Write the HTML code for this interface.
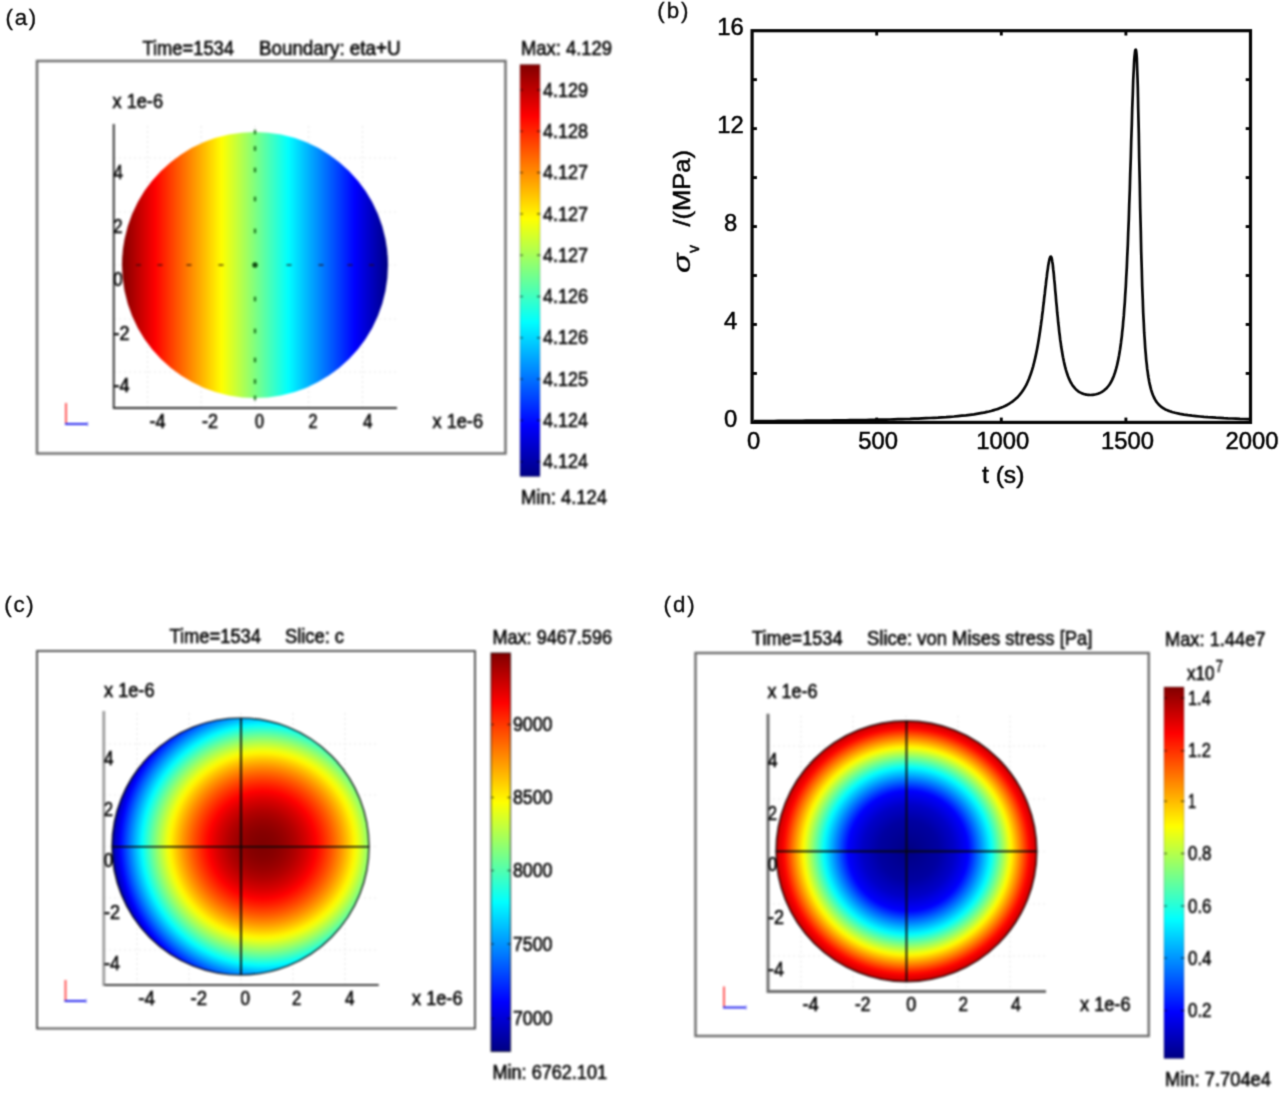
<!DOCTYPE html>
<html lang="en">
<head>
<meta charset="utf-8">
<title>Figure: COMSOL panels (a)-(d)</title>
<style>
html,body{margin:0;padding:0;background:#fff;}
body{width:1280px;height:1095px;overflow:hidden;font-family:"Liberation Sans",sans-serif;}
svg{display:block;font-family:"Liberation Sans",sans-serif;}
</style>
</head>
<body>
<svg width="1280" height="1095" viewBox="0 0 1280 1095">
<defs>
<linearGradient id="cb" x1="0" y1="0" x2="0" y2="1"><stop offset="0.0000" stop-color="#800000"/><stop offset="0.0312" stop-color="#a00000"/><stop offset="0.0625" stop-color="#c00000"/><stop offset="0.0938" stop-color="#df0000"/><stop offset="0.1250" stop-color="#ff0000"/><stop offset="0.1562" stop-color="#ff2000"/><stop offset="0.1875" stop-color="#ff4000"/><stop offset="0.2188" stop-color="#ff6000"/><stop offset="0.2500" stop-color="#ff8000"/><stop offset="0.2812" stop-color="#ff9f00"/><stop offset="0.3125" stop-color="#ffbf00"/><stop offset="0.3438" stop-color="#ffdf00"/><stop offset="0.3750" stop-color="#ffff00"/><stop offset="0.4062" stop-color="#dfff20"/><stop offset="0.4375" stop-color="#c0ff40"/><stop offset="0.4688" stop-color="#a0ff60"/><stop offset="0.5000" stop-color="#80ff80"/><stop offset="0.5312" stop-color="#60ffa0"/><stop offset="0.5625" stop-color="#40ffc0"/><stop offset="0.5938" stop-color="#20ffdf"/><stop offset="0.6250" stop-color="#00ffff"/><stop offset="0.6562" stop-color="#00dfff"/><stop offset="0.6875" stop-color="#00bfff"/><stop offset="0.7188" stop-color="#009fff"/><stop offset="0.7500" stop-color="#0080ff"/><stop offset="0.7812" stop-color="#0060ff"/><stop offset="0.8125" stop-color="#0040ff"/><stop offset="0.8438" stop-color="#0020ff"/><stop offset="0.8750" stop-color="#0000ff"/><stop offset="0.9062" stop-color="#0000e0"/><stop offset="0.9375" stop-color="#0000c1"/><stop offset="0.9688" stop-color="#0000a2"/><stop offset="1.0000" stop-color="#000083"/></linearGradient>
<linearGradient id="ga" x1="0" y1="0" x2="1" y2="0"><stop offset="0.0000" stop-color="#800000"/><stop offset="0.0312" stop-color="#a00000"/><stop offset="0.0625" stop-color="#c00000"/><stop offset="0.0938" stop-color="#df0000"/><stop offset="0.1250" stop-color="#ff0000"/><stop offset="0.1562" stop-color="#ff2000"/><stop offset="0.1875" stop-color="#ff4000"/><stop offset="0.2188" stop-color="#ff6000"/><stop offset="0.2500" stop-color="#ff8000"/><stop offset="0.2812" stop-color="#ff9f00"/><stop offset="0.3125" stop-color="#ffbf00"/><stop offset="0.3438" stop-color="#ffdf00"/><stop offset="0.3750" stop-color="#ffff00"/><stop offset="0.4062" stop-color="#dfff20"/><stop offset="0.4375" stop-color="#c0ff40"/><stop offset="0.4688" stop-color="#a0ff60"/><stop offset="0.5000" stop-color="#80ff80"/><stop offset="0.5312" stop-color="#60ffa0"/><stop offset="0.5625" stop-color="#40ffc0"/><stop offset="0.5938" stop-color="#20ffdf"/><stop offset="0.6250" stop-color="#00ffff"/><stop offset="0.6562" stop-color="#00dfff"/><stop offset="0.6875" stop-color="#00bfff"/><stop offset="0.7188" stop-color="#009fff"/><stop offset="0.7500" stop-color="#0080ff"/><stop offset="0.7812" stop-color="#0060ff"/><stop offset="0.8125" stop-color="#0040ff"/><stop offset="0.8438" stop-color="#0020ff"/><stop offset="0.8750" stop-color="#0000ff"/><stop offset="0.9062" stop-color="#0000e0"/><stop offset="0.9375" stop-color="#0000c1"/><stop offset="0.9688" stop-color="#0000a2"/><stop offset="1.0000" stop-color="#000083"/></linearGradient>
<radialGradient id="gc" gradientUnits="userSpaceOnUse" cx="262.4" cy="845" r="152"><stop offset="0.0000" stop-color="#800000"/><stop offset="0.0208" stop-color="#800000"/><stop offset="0.0417" stop-color="#820000"/><stop offset="0.0625" stop-color="#840000"/><stop offset="0.0833" stop-color="#870000"/><stop offset="0.1042" stop-color="#8b0000"/><stop offset="0.1250" stop-color="#900000"/><stop offset="0.1458" stop-color="#960000"/><stop offset="0.1667" stop-color="#9c0000"/><stop offset="0.1875" stop-color="#a40000"/><stop offset="0.2083" stop-color="#ac0000"/><stop offset="0.2292" stop-color="#b50000"/><stop offset="0.2500" stop-color="#c00000"/><stop offset="0.2708" stop-color="#cb0000"/><stop offset="0.2917" stop-color="#d60000"/><stop offset="0.3125" stop-color="#e30000"/><stop offset="0.3333" stop-color="#f10000"/><stop offset="0.3542" stop-color="#ff0000"/><stop offset="0.3750" stop-color="#ff1000"/><stop offset="0.3958" stop-color="#ff2000"/><stop offset="0.4167" stop-color="#ff3200"/><stop offset="0.4375" stop-color="#ff4400"/><stop offset="0.4583" stop-color="#ff5700"/><stop offset="0.4792" stop-color="#ff6b00"/><stop offset="0.5000" stop-color="#ff8000"/><stop offset="0.5208" stop-color="#ff9500"/><stop offset="0.5417" stop-color="#ffac00"/><stop offset="0.5625" stop-color="#ffc300"/><stop offset="0.5833" stop-color="#ffdc00"/><stop offset="0.6042" stop-color="#fff500"/><stop offset="0.6250" stop-color="#efff10"/><stop offset="0.6458" stop-color="#d4ff2b"/><stop offset="0.6667" stop-color="#b8ff47"/><stop offset="0.6875" stop-color="#9cff64"/><stop offset="0.7083" stop-color="#7eff82"/><stop offset="0.7292" stop-color="#60ffa0"/><stop offset="0.7500" stop-color="#40ffc0"/><stop offset="0.7708" stop-color="#20ffe0"/><stop offset="0.7917" stop-color="#00fdff"/><stop offset="0.8125" stop-color="#00dbff"/><stop offset="0.8333" stop-color="#00b8ff"/><stop offset="0.8542" stop-color="#0094ff"/><stop offset="0.8750" stop-color="#0070ff"/><stop offset="0.8958" stop-color="#004aff"/><stop offset="0.9167" stop-color="#0023ff"/><stop offset="0.9375" stop-color="#0000fb"/><stop offset="0.9583" stop-color="#0000d4"/><stop offset="0.9792" stop-color="#0000ac"/><stop offset="1.0000" stop-color="#000083"/></radialGradient>
<radialGradient id="gd" gradientUnits="userSpaceOnUse" cx="906.4" cy="851.3" r="136.0" fx="909.4" fy="850.5"><stop offset="0.0000" stop-color="#000083"/><stop offset="0.0147" stop-color="#000085"/><stop offset="0.0294" stop-color="#000087"/><stop offset="0.0441" stop-color="#000089"/><stop offset="0.0588" stop-color="#00008b"/><stop offset="0.0735" stop-color="#00008d"/><stop offset="0.0882" stop-color="#00008f"/><stop offset="0.1029" stop-color="#000091"/><stop offset="0.1176" stop-color="#000093"/><stop offset="0.1324" stop-color="#000095"/><stop offset="0.1471" stop-color="#000097"/><stop offset="0.1618" stop-color="#000099"/><stop offset="0.1765" stop-color="#00009b"/><stop offset="0.1912" stop-color="#00009d"/><stop offset="0.2059" stop-color="#00009f"/><stop offset="0.2206" stop-color="#0000a1"/><stop offset="0.2353" stop-color="#0000a6"/><stop offset="0.2500" stop-color="#0000ab"/><stop offset="0.2647" stop-color="#0000b0"/><stop offset="0.2794" stop-color="#0000b5"/><stop offset="0.2941" stop-color="#0000ba"/><stop offset="0.3088" stop-color="#0000bf"/><stop offset="0.3235" stop-color="#0000c3"/><stop offset="0.3382" stop-color="#0000c8"/><stop offset="0.3529" stop-color="#0000d0"/><stop offset="0.3676" stop-color="#0000d8"/><stop offset="0.3824" stop-color="#0000e0"/><stop offset="0.3971" stop-color="#0000e8"/><stop offset="0.4118" stop-color="#0000ef"/><stop offset="0.4265" stop-color="#0000f7"/><stop offset="0.4412" stop-color="#0000ff"/><stop offset="0.4559" stop-color="#0016ff"/><stop offset="0.4706" stop-color="#002bff"/><stop offset="0.4853" stop-color="#0041ff"/><stop offset="0.5000" stop-color="#0057ff"/><stop offset="0.5147" stop-color="#006dff"/><stop offset="0.5294" stop-color="#0082ff"/><stop offset="0.5441" stop-color="#0098ff"/><stop offset="0.5588" stop-color="#00aeff"/><stop offset="0.5735" stop-color="#00c3ff"/><stop offset="0.5882" stop-color="#00d9ff"/><stop offset="0.6029" stop-color="#00efff"/><stop offset="0.6176" stop-color="#06fff9"/><stop offset="0.6324" stop-color="#20ffdf"/><stop offset="0.6471" stop-color="#3affc6"/><stop offset="0.6618" stop-color="#53ffac"/><stop offset="0.6765" stop-color="#6dff93"/><stop offset="0.6912" stop-color="#86ff7a"/><stop offset="0.7059" stop-color="#a0ff60"/><stop offset="0.7206" stop-color="#b9ff46"/><stop offset="0.7353" stop-color="#d3ff2d"/><stop offset="0.7500" stop-color="#ecff13"/><stop offset="0.7647" stop-color="#fff800"/><stop offset="0.7794" stop-color="#ffde00"/><stop offset="0.7941" stop-color="#ffc400"/><stop offset="0.8088" stop-color="#ffaa00"/><stop offset="0.8235" stop-color="#ff9000"/><stop offset="0.8382" stop-color="#ff7600"/><stop offset="0.8529" stop-color="#ff5c00"/><stop offset="0.8676" stop-color="#ff4100"/><stop offset="0.8824" stop-color="#ff2700"/><stop offset="0.8971" stop-color="#ff0d00"/><stop offset="0.9118" stop-color="#f70000"/><stop offset="0.9265" stop-color="#e70000"/><stop offset="0.9412" stop-color="#d60000"/><stop offset="0.9559" stop-color="#c60000"/><stop offset="0.9706" stop-color="#ba0000"/><stop offset="0.9853" stop-color="#af0000"/><stop offset="1.0000" stop-color="#a40000"/></radialGradient>
<filter id="soft" x="-2%" y="-2%" width="104%" height="104%" color-interpolation-filters="sRGB"><feGaussianBlur stdDeviation="0.85"/></filter>
<filter id="soft2" x="-2%" y="-2%" width="104%" height="104%" color-interpolation-filters="sRGB"><feConvolveMatrix order="3" kernelMatrix="0.0311 0.1141 0.0311 0.1141 0.4191 0.1141 0.0311 0.1141 0.0311" divisor="1" edgeMode="none" preserveAlpha="false"/></filter>
</defs>
<rect width="1280" height="1095" fill="#ffffff"/>
<g filter="url(#soft)">
<text x="142.50" y="54.50" font-size="19.60" text-anchor="start" fill="#050505" textLength="91.50" lengthAdjust="spacingAndGlyphs" stroke="#050505" stroke-width="0.60">Time=1534</text>
<text x="259.00" y="54.50" font-size="19.60" text-anchor="start" fill="#050505" textLength="141.50" lengthAdjust="spacingAndGlyphs" stroke="#050505" stroke-width="0.60">Boundary: eta+U</text>
<text x="521.00" y="54.50" font-size="19.60" text-anchor="start" fill="#050505" textLength="91.00" lengthAdjust="spacingAndGlyphs" stroke="#050505" stroke-width="0.60">Max: 4.129</text>
<text x="521.00" y="503.50" font-size="19.60" text-anchor="start" fill="#050505" textLength="86.00" lengthAdjust="spacingAndGlyphs" stroke="#050505" stroke-width="0.60">Min: 4.124</text>
<rect x="37.00" y="61.00" width="468.50" height="392.50" fill="#fff" stroke="#6c6c6c" stroke-width="2.40"/>
<line x1="147.50" y1="126.00" x2="147.50" y2="408.00" stroke="#e9e9e9" stroke-width="1.20" stroke-dasharray="2 3"/>
<line x1="201.20" y1="126.00" x2="201.20" y2="408.00" stroke="#e9e9e9" stroke-width="1.20" stroke-dasharray="2 3"/>
<line x1="255.00" y1="126.00" x2="255.00" y2="408.00" stroke="#e9e9e9" stroke-width="1.20" stroke-dasharray="2 3"/>
<line x1="308.70" y1="126.00" x2="308.70" y2="408.00" stroke="#e9e9e9" stroke-width="1.20" stroke-dasharray="2 3"/>
<line x1="362.50" y1="126.00" x2="362.50" y2="408.00" stroke="#e9e9e9" stroke-width="1.20" stroke-dasharray="2 3"/>
<line x1="113.75" y1="158.00" x2="397.00" y2="158.00" stroke="#e9e9e9" stroke-width="1.20" stroke-dasharray="2 3"/>
<line x1="113.75" y1="212.00" x2="397.00" y2="212.00" stroke="#e9e9e9" stroke-width="1.20" stroke-dasharray="2 3"/>
<line x1="113.75" y1="265.00" x2="397.00" y2="265.00" stroke="#e9e9e9" stroke-width="1.20" stroke-dasharray="2 3"/>
<line x1="113.75" y1="319.00" x2="397.00" y2="319.00" stroke="#e9e9e9" stroke-width="1.20" stroke-dasharray="2 3"/>
<line x1="113.75" y1="372.00" x2="397.00" y2="372.00" stroke="#e9e9e9" stroke-width="1.20" stroke-dasharray="2 3"/>
<circle cx="255.00" cy="265.00" r="133.00" fill="url(#ga)"/>
<rect x="253.80" y="228.70" width="2.4" height="4.6" fill="rgba(15,95,15,0.8)"/>
<rect x="218.50" y="264.00" width="5" height="2" fill="rgba(40,10,10,0.55)"/>
<rect x="253.80" y="296.70" width="2.4" height="4.6" fill="rgba(15,95,15,0.8)"/>
<rect x="286.50" y="264.00" width="5" height="2" fill="rgba(40,10,10,0.55)"/>
<rect x="253.80" y="196.70" width="2.4" height="4.6" fill="rgba(15,95,15,0.8)"/>
<rect x="186.50" y="264.00" width="5" height="2" fill="rgba(40,10,10,0.55)"/>
<rect x="253.80" y="328.70" width="2.4" height="4.6" fill="rgba(15,95,15,0.8)"/>
<rect x="318.50" y="264.00" width="5" height="2" fill="rgba(40,10,10,0.55)"/>
<rect x="253.80" y="167.70" width="2.4" height="4.6" fill="rgba(15,95,15,0.8)"/>
<rect x="157.50" y="264.00" width="5" height="2" fill="rgba(40,10,10,0.55)"/>
<rect x="253.80" y="357.70" width="2.4" height="4.6" fill="rgba(15,95,15,0.8)"/>
<rect x="347.50" y="264.00" width="5" height="2" fill="rgba(40,10,10,0.55)"/>
<rect x="253.80" y="146.20" width="2.4" height="4.6" fill="rgba(15,95,15,0.8)"/>
<rect x="136.00" y="264.00" width="5" height="2" fill="rgba(40,10,10,0.55)"/>
<rect x="253.80" y="379.20" width="2.4" height="4.6" fill="rgba(15,95,15,0.8)"/>
<rect x="369.00" y="264.00" width="5" height="2" fill="rgba(40,10,10,0.55)"/>
<rect x="253.80" y="129.70" width="2.4" height="4.6" fill="rgba(15,95,15,0.8)"/>
<rect x="253.80" y="395.70" width="2.4" height="4.6" fill="rgba(15,95,15,0.8)"/>
<circle cx="255.00" cy="265.00" r="2.7" fill="rgba(5,60,5,0.92)"/>
<line x1="113.75" y1="124.00" x2="113.75" y2="408.95" stroke="#2e2e2e" stroke-width="1.90"/>
<line x1="113.50" y1="408.00" x2="397.00" y2="408.00" stroke="#2e2e2e" stroke-width="1.90"/>
<text x="112.50" y="108.00" font-size="19.60" text-anchor="start" fill="#050505" textLength="50.50" lengthAdjust="spacingAndGlyphs" stroke="#050505" stroke-width="0.60">x 1e-6</text>
<text x="432.50" y="427.50" font-size="19.60" text-anchor="start" fill="#050505" textLength="50.50" lengthAdjust="spacingAndGlyphs" stroke="#050505" stroke-width="0.60">x 1e-6</text>
<text x="149.50" y="427.50" font-size="19.60" text-anchor="start" fill="#050505" textLength="16.00" lengthAdjust="spacingAndGlyphs" stroke="#050505" stroke-width="0.60">-4</text>
<text x="202.00" y="427.50" font-size="19.60" text-anchor="start" fill="#050505" textLength="16.00" lengthAdjust="spacingAndGlyphs" stroke="#050505" stroke-width="0.60">-2</text>
<text x="255.00" y="427.50" font-size="19.60" text-anchor="start" fill="#050505" textLength="9.00" lengthAdjust="spacingAndGlyphs" stroke="#050505" stroke-width="0.60">0</text>
<text x="308.50" y="427.50" font-size="19.60" text-anchor="start" fill="#050505" textLength="9.00" lengthAdjust="spacingAndGlyphs" stroke="#050505" stroke-width="0.60">2</text>
<text x="363.00" y="427.50" font-size="19.60" text-anchor="start" fill="#050505" textLength="9.50" lengthAdjust="spacingAndGlyphs" stroke="#050505" stroke-width="0.60">4</text>
<text x="113.50" y="179.00" font-size="19.60" text-anchor="start" fill="#050505" textLength="9.50" lengthAdjust="spacingAndGlyphs" stroke="#050505" stroke-width="0.60">4</text>
<text x="113.50" y="232.50" font-size="19.60" text-anchor="start" fill="#050505" textLength="9.00" lengthAdjust="spacingAndGlyphs" stroke="#050505" stroke-width="0.60">2</text>
<text x="113.50" y="285.50" font-size="19.60" text-anchor="start" fill="#050505" textLength="9.00" lengthAdjust="spacingAndGlyphs" stroke="#050505" stroke-width="0.60">0</text>
<text x="113.50" y="339.50" font-size="19.60" text-anchor="start" fill="#050505" textLength="16.00" lengthAdjust="spacingAndGlyphs" stroke="#050505" stroke-width="0.60">-2</text>
<text x="113.50" y="391.50" font-size="19.60" text-anchor="start" fill="#050505" textLength="16.00" lengthAdjust="spacingAndGlyphs" stroke="#050505" stroke-width="0.60">-4</text>
<line x1="66.00" y1="403.00" x2="66.00" y2="424.50" stroke="#ff4a4a" stroke-width="1.80"/>
<line x1="65.00" y1="424.00" x2="87.50" y2="424.00" stroke="#2a2af0" stroke-width="2.00"/>
<line x1="87.50" y1="422.00" x2="87.50" y2="426.00" stroke="#7a7af5" stroke-width="1.20"/>
<rect x="520.00" y="64.50" width="20.00" height="412.00" fill="url(#cb)" stroke="rgba(0,0,0,0.25)" stroke-width="0.8"/>
<line x1="520.00" y1="90.00" x2="523.00" y2="90.00" stroke="rgba(0,0,0,0.55)" stroke-width="1.30"/>
<line x1="537.00" y1="90.00" x2="540.50" y2="90.00" stroke="rgba(0,0,0,0.65)" stroke-width="1.30"/>
<text x="543.00" y="96.60" font-size="19.60" text-anchor="start" fill="#050505" textLength="45.00" lengthAdjust="spacingAndGlyphs" stroke="#050505" stroke-width="0.60">4.129</text>
<line x1="520.00" y1="131.30" x2="523.00" y2="131.30" stroke="rgba(0,0,0,0.55)" stroke-width="1.30"/>
<line x1="537.00" y1="131.30" x2="540.50" y2="131.30" stroke="rgba(0,0,0,0.65)" stroke-width="1.30"/>
<text x="543.00" y="137.90" font-size="19.60" text-anchor="start" fill="#050505" textLength="45.00" lengthAdjust="spacingAndGlyphs" stroke="#050505" stroke-width="0.60">4.128</text>
<line x1="520.00" y1="172.60" x2="523.00" y2="172.60" stroke="rgba(0,0,0,0.55)" stroke-width="1.30"/>
<line x1="537.00" y1="172.60" x2="540.50" y2="172.60" stroke="rgba(0,0,0,0.65)" stroke-width="1.30"/>
<text x="543.00" y="179.20" font-size="19.60" text-anchor="start" fill="#050505" textLength="45.00" lengthAdjust="spacingAndGlyphs" stroke="#050505" stroke-width="0.60">4.127</text>
<line x1="520.00" y1="213.90" x2="523.00" y2="213.90" stroke="rgba(0,0,0,0.55)" stroke-width="1.30"/>
<line x1="537.00" y1="213.90" x2="540.50" y2="213.90" stroke="rgba(0,0,0,0.65)" stroke-width="1.30"/>
<text x="543.00" y="220.50" font-size="19.60" text-anchor="start" fill="#050505" textLength="45.00" lengthAdjust="spacingAndGlyphs" stroke="#050505" stroke-width="0.60">4.127</text>
<line x1="520.00" y1="255.20" x2="523.00" y2="255.20" stroke="rgba(0,0,0,0.55)" stroke-width="1.30"/>
<line x1="537.00" y1="255.20" x2="540.50" y2="255.20" stroke="rgba(0,0,0,0.65)" stroke-width="1.30"/>
<text x="543.00" y="261.80" font-size="19.60" text-anchor="start" fill="#050505" textLength="45.00" lengthAdjust="spacingAndGlyphs" stroke="#050505" stroke-width="0.60">4.127</text>
<line x1="520.00" y1="296.50" x2="523.00" y2="296.50" stroke="rgba(0,0,0,0.55)" stroke-width="1.30"/>
<line x1="537.00" y1="296.50" x2="540.50" y2="296.50" stroke="rgba(0,0,0,0.65)" stroke-width="1.30"/>
<text x="543.00" y="303.10" font-size="19.60" text-anchor="start" fill="#050505" textLength="45.00" lengthAdjust="spacingAndGlyphs" stroke="#050505" stroke-width="0.60">4.126</text>
<line x1="520.00" y1="337.80" x2="523.00" y2="337.80" stroke="rgba(0,0,0,0.55)" stroke-width="1.30"/>
<line x1="537.00" y1="337.80" x2="540.50" y2="337.80" stroke="rgba(0,0,0,0.65)" stroke-width="1.30"/>
<text x="543.00" y="344.40" font-size="19.60" text-anchor="start" fill="#050505" textLength="45.00" lengthAdjust="spacingAndGlyphs" stroke="#050505" stroke-width="0.60">4.126</text>
<line x1="520.00" y1="379.10" x2="523.00" y2="379.10" stroke="rgba(0,0,0,0.55)" stroke-width="1.30"/>
<line x1="537.00" y1="379.10" x2="540.50" y2="379.10" stroke="rgba(0,0,0,0.65)" stroke-width="1.30"/>
<text x="543.00" y="385.70" font-size="19.60" text-anchor="start" fill="#050505" textLength="45.00" lengthAdjust="spacingAndGlyphs" stroke="#050505" stroke-width="0.60">4.125</text>
<line x1="520.00" y1="420.40" x2="523.00" y2="420.40" stroke="rgba(0,0,0,0.55)" stroke-width="1.30"/>
<line x1="537.00" y1="420.40" x2="540.50" y2="420.40" stroke="rgba(0,0,0,0.65)" stroke-width="1.30"/>
<text x="543.00" y="427.00" font-size="19.60" text-anchor="start" fill="#050505" textLength="45.00" lengthAdjust="spacingAndGlyphs" stroke="#050505" stroke-width="0.60">4.124</text>
<line x1="520.00" y1="461.70" x2="523.00" y2="461.70" stroke="rgba(0,0,0,0.55)" stroke-width="1.30"/>
<line x1="537.00" y1="461.70" x2="540.50" y2="461.70" stroke="rgba(0,0,0,0.65)" stroke-width="1.30"/>
<text x="543.00" y="468.30" font-size="19.60" text-anchor="start" fill="#050505" textLength="45.00" lengthAdjust="spacingAndGlyphs" stroke="#050505" stroke-width="0.60">4.124</text>
<text x="169.50" y="643.00" font-size="19.60" text-anchor="start" fill="#050505" textLength="91.50" lengthAdjust="spacingAndGlyphs" stroke="#050505" stroke-width="0.60">Time=1534</text>
<text x="285.00" y="643.00" font-size="19.60" text-anchor="start" fill="#050505" textLength="59.00" lengthAdjust="spacingAndGlyphs" stroke="#050505" stroke-width="0.60">Slice: c</text>
<text x="492.50" y="643.50" font-size="19.60" text-anchor="start" fill="#050505" textLength="119.50" lengthAdjust="spacingAndGlyphs" stroke="#050505" stroke-width="0.60">Max: 9467.596</text>
<text x="492.50" y="1078.50" font-size="19.60" text-anchor="start" fill="#050505" textLength="114.50" lengthAdjust="spacingAndGlyphs" stroke="#050505" stroke-width="0.60">Min: 6762.101</text>
<rect x="37.00" y="651.00" width="438.00" height="377.50" fill="#fff" stroke="#505050" stroke-width="1.90"/>
<line x1="137.00" y1="713.00" x2="137.00" y2="985.00" stroke="#e9e9e9" stroke-width="1.20" stroke-dasharray="2 3"/>
<line x1="189.00" y1="713.00" x2="189.00" y2="985.00" stroke="#e9e9e9" stroke-width="1.20" stroke-dasharray="2 3"/>
<line x1="241.00" y1="713.00" x2="241.00" y2="985.00" stroke="#e9e9e9" stroke-width="1.20" stroke-dasharray="2 3"/>
<line x1="293.00" y1="713.00" x2="293.00" y2="985.00" stroke="#e9e9e9" stroke-width="1.20" stroke-dasharray="2 3"/>
<line x1="345.00" y1="713.00" x2="345.00" y2="985.00" stroke="#e9e9e9" stroke-width="1.20" stroke-dasharray="2 3"/>
<line x1="103.80" y1="744.00" x2="378.75" y2="744.00" stroke="#e9e9e9" stroke-width="1.20" stroke-dasharray="2 3"/>
<line x1="103.80" y1="795.00" x2="378.75" y2="795.00" stroke="#e9e9e9" stroke-width="1.20" stroke-dasharray="2 3"/>
<line x1="103.80" y1="846.50" x2="378.75" y2="846.50" stroke="#e9e9e9" stroke-width="1.20" stroke-dasharray="2 3"/>
<line x1="103.80" y1="898.00" x2="378.75" y2="898.00" stroke="#e9e9e9" stroke-width="1.20" stroke-dasharray="2 3"/>
<line x1="103.80" y1="950.00" x2="378.75" y2="950.00" stroke="#e9e9e9" stroke-width="1.20" stroke-dasharray="2 3"/>
<circle cx="240.50" cy="846.50" r="128.50" fill="url(#gc)" stroke="rgba(0,0,0,0.72)" stroke-width="1.7"/>
<line x1="241.00" y1="718.00" x2="241.00" y2="975.00" stroke="#080808" stroke-width="1.70"/>
<line x1="112.00" y1="846.75" x2="369.00" y2="846.75" stroke="#080808" stroke-width="1.70"/>
<line x1="103.80" y1="711.00" x2="103.80" y2="986.00" stroke="#9c9c9c" stroke-width="2.80"/>
<line x1="104.50" y1="985.00" x2="378.75" y2="985.00" stroke="#404040" stroke-width="2.00"/>
<text x="104.00" y="697.00" font-size="19.60" text-anchor="start" fill="#050505" textLength="50.50" lengthAdjust="spacingAndGlyphs" stroke="#050505" stroke-width="0.60">x 1e-6</text>
<text x="412.00" y="1005.00" font-size="19.60" text-anchor="start" fill="#050505" textLength="50.50" lengthAdjust="spacingAndGlyphs" stroke="#050505" stroke-width="0.60">x 1e-6</text>
<text x="138.25" y="1005.00" font-size="19.60" text-anchor="start" fill="#050505" textLength="17.00" lengthAdjust="spacingAndGlyphs" stroke="#050505" stroke-width="0.60">-4</text>
<text x="190.50" y="1005.00" font-size="19.60" text-anchor="start" fill="#050505" textLength="16.50" lengthAdjust="spacingAndGlyphs" stroke="#050505" stroke-width="0.60">-2</text>
<text x="240.50" y="1005.00" font-size="19.60" text-anchor="start" fill="#050505" textLength="9.50" lengthAdjust="spacingAndGlyphs" stroke="#050505" stroke-width="0.60">0</text>
<text x="292.00" y="1005.00" font-size="19.60" text-anchor="start" fill="#050505" textLength="9.25" lengthAdjust="spacingAndGlyphs" stroke="#050505" stroke-width="0.60">2</text>
<text x="345.00" y="1005.00" font-size="19.60" text-anchor="start" fill="#050505" textLength="9.50" lengthAdjust="spacingAndGlyphs" stroke="#050505" stroke-width="0.60">4</text>
<text x="104.00" y="764.50" font-size="19.60" text-anchor="start" fill="#050505" textLength="9.50" lengthAdjust="spacingAndGlyphs" stroke="#050505" stroke-width="0.60">4</text>
<text x="104.00" y="815.50" font-size="19.60" text-anchor="start" fill="#050505" textLength="9.00" lengthAdjust="spacingAndGlyphs" stroke="#050505" stroke-width="0.60">2</text>
<text x="104.00" y="867.00" font-size="19.60" text-anchor="start" fill="#050505" textLength="9.00" lengthAdjust="spacingAndGlyphs" stroke="#050505" stroke-width="0.60">0</text>
<text x="104.00" y="918.50" font-size="19.60" text-anchor="start" fill="#050505" textLength="16.00" lengthAdjust="spacingAndGlyphs" stroke="#050505" stroke-width="0.60">-2</text>
<text x="104.00" y="969.50" font-size="19.60" text-anchor="start" fill="#050505" textLength="16.00" lengthAdjust="spacingAndGlyphs" stroke="#050505" stroke-width="0.60">-4</text>
<line x1="65.50" y1="980.00" x2="65.50" y2="1001.50" stroke="#ff4a4a" stroke-width="1.80"/>
<line x1="64.50" y1="1001.00" x2="86.00" y2="1001.00" stroke="#2a2af0" stroke-width="2.00"/>
<line x1="86.00" y1="999.00" x2="86.00" y2="1003.00" stroke="#7a7af5" stroke-width="1.20"/>
<rect x="491.00" y="653.00" width="19.50" height="398.50" fill="url(#cb)" stroke="rgba(0,0,0,0.6)" stroke-width="1.2"/>
<line x1="491.00" y1="724.50" x2="494.00" y2="724.50" stroke="rgba(0,0,0,0.55)" stroke-width="1.30"/>
<line x1="507.50" y1="724.50" x2="511.00" y2="724.50" stroke="rgba(0,0,0,0.65)" stroke-width="1.30"/>
<text x="513.00" y="731.10" font-size="19.60" text-anchor="start" fill="#050505" textLength="39.50" lengthAdjust="spacingAndGlyphs" stroke="#050505" stroke-width="0.60">9000</text>
<line x1="491.00" y1="797.50" x2="494.00" y2="797.50" stroke="rgba(0,0,0,0.55)" stroke-width="1.30"/>
<line x1="507.50" y1="797.50" x2="511.00" y2="797.50" stroke="rgba(0,0,0,0.65)" stroke-width="1.30"/>
<text x="513.00" y="804.10" font-size="19.60" text-anchor="start" fill="#050505" textLength="39.50" lengthAdjust="spacingAndGlyphs" stroke="#050505" stroke-width="0.60">8500</text>
<line x1="491.00" y1="870.50" x2="494.00" y2="870.50" stroke="rgba(0,0,0,0.55)" stroke-width="1.30"/>
<line x1="507.50" y1="870.50" x2="511.00" y2="870.50" stroke="rgba(0,0,0,0.65)" stroke-width="1.30"/>
<text x="513.00" y="877.10" font-size="19.60" text-anchor="start" fill="#050505" textLength="39.50" lengthAdjust="spacingAndGlyphs" stroke="#050505" stroke-width="0.60">8000</text>
<line x1="491.00" y1="944.00" x2="494.00" y2="944.00" stroke="rgba(0,0,0,0.55)" stroke-width="1.30"/>
<line x1="507.50" y1="944.00" x2="511.00" y2="944.00" stroke="rgba(0,0,0,0.65)" stroke-width="1.30"/>
<text x="513.00" y="950.60" font-size="19.60" text-anchor="start" fill="#050505" textLength="39.50" lengthAdjust="spacingAndGlyphs" stroke="#050505" stroke-width="0.60">7500</text>
<line x1="491.00" y1="1018.50" x2="494.00" y2="1018.50" stroke="rgba(0,0,0,0.55)" stroke-width="1.30"/>
<line x1="507.50" y1="1018.50" x2="511.00" y2="1018.50" stroke="rgba(0,0,0,0.65)" stroke-width="1.30"/>
<text x="513.00" y="1025.10" font-size="19.60" text-anchor="start" fill="#050505" textLength="39.50" lengthAdjust="spacingAndGlyphs" stroke="#050505" stroke-width="0.60">7000</text>
<text x="752.00" y="644.50" font-size="19.60" text-anchor="start" fill="#050505" textLength="90.50" lengthAdjust="spacingAndGlyphs" stroke="#050505" stroke-width="0.60">Time=1534</text>
<text x="867.00" y="644.50" font-size="19.60" text-anchor="start" fill="#050505" textLength="225.50" lengthAdjust="spacingAndGlyphs" stroke="#050505" stroke-width="0.60">Slice: von Mises stress [Pa]</text>
<text x="1165.00" y="645.50" font-size="19.60" text-anchor="start" fill="#050505" textLength="100.50" lengthAdjust="spacingAndGlyphs" stroke="#050505" stroke-width="0.60">Max: 1.44e7</text>
<text x="1165.00" y="1085.50" font-size="19.60" text-anchor="start" fill="#050505" textLength="106.00" lengthAdjust="spacingAndGlyphs" stroke="#050505" stroke-width="0.60">Min: 7.704e4</text>
<text x="1187.00" y="680.00" font-size="19.60" text-anchor="start" fill="#050505" textLength="27.50" lengthAdjust="spacingAndGlyphs" stroke="#050505" stroke-width="0.60">x10</text>
<text x="1215.50" y="671.50" font-size="15.68" text-anchor="start" fill="#050505" textLength="7.50" lengthAdjust="spacingAndGlyphs" stroke="#050505" stroke-width="0.35">7</text>
<rect x="695.50" y="653.00" width="453.25" height="383.00" fill="#fff" stroke="#6c6c6c" stroke-width="2.40"/>
<line x1="801.00" y1="715.75" x2="801.00" y2="991.50" stroke="#e9e9e9" stroke-width="1.20" stroke-dasharray="2 3"/>
<line x1="853.00" y1="715.75" x2="853.00" y2="991.50" stroke="#e9e9e9" stroke-width="1.20" stroke-dasharray="2 3"/>
<line x1="906.00" y1="715.75" x2="906.00" y2="991.50" stroke="#e9e9e9" stroke-width="1.20" stroke-dasharray="2 3"/>
<line x1="958.00" y1="715.75" x2="958.00" y2="991.50" stroke="#e9e9e9" stroke-width="1.20" stroke-dasharray="2 3"/>
<line x1="1010.00" y1="715.75" x2="1010.00" y2="991.50" stroke="#e9e9e9" stroke-width="1.20" stroke-dasharray="2 3"/>
<line x1="768.00" y1="746.00" x2="1046.00" y2="746.00" stroke="#e9e9e9" stroke-width="1.20" stroke-dasharray="2 3"/>
<line x1="768.00" y1="799.00" x2="1046.00" y2="799.00" stroke="#e9e9e9" stroke-width="1.20" stroke-dasharray="2 3"/>
<line x1="768.00" y1="851.50" x2="1046.00" y2="851.50" stroke="#e9e9e9" stroke-width="1.20" stroke-dasharray="2 3"/>
<line x1="768.00" y1="904.00" x2="1046.00" y2="904.00" stroke="#e9e9e9" stroke-width="1.20" stroke-dasharray="2 3"/>
<line x1="768.00" y1="956.00" x2="1046.00" y2="956.00" stroke="#e9e9e9" stroke-width="1.20" stroke-dasharray="2 3"/>
<circle cx="906.40" cy="851.30" r="130.40" fill="url(#gd)" stroke="rgba(20,0,0,0.8)" stroke-width="1.6"/>
<line x1="906.50" y1="720.90" x2="906.50" y2="981.70" stroke="#080808" stroke-width="1.70"/>
<line x1="776.00" y1="851.30" x2="1036.80" y2="851.30" stroke="#080808" stroke-width="1.70"/>
<line x1="768.00" y1="713.75" x2="768.00" y2="992.95" stroke="#6c6c6c" stroke-width="2.90"/>
<line x1="768.00" y1="991.50" x2="1046.00" y2="991.50" stroke="#6c6c6c" stroke-width="2.90"/>
<text x="767.50" y="698.00" font-size="19.60" text-anchor="start" fill="#050505" textLength="50.00" lengthAdjust="spacingAndGlyphs" stroke="#050505" stroke-width="0.60">x 1e-6</text>
<text x="1080.00" y="1011.00" font-size="19.60" text-anchor="start" fill="#050505" textLength="50.50" lengthAdjust="spacingAndGlyphs" stroke="#050505" stroke-width="0.60">x 1e-6</text>
<text x="802.50" y="1011.00" font-size="19.60" text-anchor="start" fill="#050505" textLength="16.25" lengthAdjust="spacingAndGlyphs" stroke="#050505" stroke-width="0.60">-4</text>
<text x="855.00" y="1011.00" font-size="19.60" text-anchor="start" fill="#050505" textLength="15.50" lengthAdjust="spacingAndGlyphs" stroke="#050505" stroke-width="0.60">-2</text>
<text x="906.25" y="1011.00" font-size="19.60" text-anchor="start" fill="#050505" textLength="10.00" lengthAdjust="spacingAndGlyphs" stroke="#050505" stroke-width="0.60">0</text>
<text x="958.50" y="1011.00" font-size="19.60" text-anchor="start" fill="#050505" textLength="9.50" lengthAdjust="spacingAndGlyphs" stroke="#050505" stroke-width="0.60">2</text>
<text x="1011.00" y="1011.00" font-size="19.60" text-anchor="start" fill="#050505" textLength="10.00" lengthAdjust="spacingAndGlyphs" stroke="#050505" stroke-width="0.60">4</text>
<text x="768.00" y="766.50" font-size="19.60" text-anchor="start" fill="#050505" textLength="9.50" lengthAdjust="spacingAndGlyphs" stroke="#050505" stroke-width="0.60">4</text>
<text x="768.00" y="819.50" font-size="19.60" text-anchor="start" fill="#050505" textLength="9.00" lengthAdjust="spacingAndGlyphs" stroke="#050505" stroke-width="0.60">2</text>
<text x="768.00" y="871.00" font-size="19.60" text-anchor="start" fill="#050505" textLength="9.00" lengthAdjust="spacingAndGlyphs" stroke="#050505" stroke-width="0.60">0</text>
<text x="768.00" y="923.50" font-size="19.60" text-anchor="start" fill="#050505" textLength="16.00" lengthAdjust="spacingAndGlyphs" stroke="#050505" stroke-width="0.60">-2</text>
<text x="768.00" y="975.50" font-size="19.60" text-anchor="start" fill="#050505" textLength="16.00" lengthAdjust="spacingAndGlyphs" stroke="#050505" stroke-width="0.60">-4</text>
<line x1="724.00" y1="986.50" x2="724.00" y2="1008.00" stroke="#ff4a4a" stroke-width="1.80"/>
<line x1="723.00" y1="1007.50" x2="746.00" y2="1007.50" stroke="#2a2af0" stroke-width="2.00"/>
<line x1="746.00" y1="1005.50" x2="746.00" y2="1009.50" stroke="#7a7af5" stroke-width="1.20"/>
<rect x="1164.00" y="687.00" width="20.00" height="371.50" fill="url(#cb)" stroke="rgba(0,0,0,0.25)" stroke-width="0.8"/>
<line x1="1164.00" y1="698.00" x2="1167.00" y2="698.00" stroke="rgba(0,0,0,0.55)" stroke-width="1.30"/>
<line x1="1181.00" y1="698.00" x2="1184.50" y2="698.00" stroke="rgba(0,0,0,0.65)" stroke-width="1.30"/>
<text x="1188.00" y="704.60" font-size="19.60" text-anchor="start" fill="#050505" textLength="22.75" lengthAdjust="spacingAndGlyphs" stroke="#050505" stroke-width="0.60">1.4</text>
<line x1="1164.00" y1="750.75" x2="1167.00" y2="750.75" stroke="rgba(0,0,0,0.55)" stroke-width="1.30"/>
<line x1="1181.00" y1="750.75" x2="1184.50" y2="750.75" stroke="rgba(0,0,0,0.65)" stroke-width="1.30"/>
<text x="1188.00" y="757.35" font-size="19.60" text-anchor="start" fill="#050505" textLength="22.75" lengthAdjust="spacingAndGlyphs" stroke="#050505" stroke-width="0.60">1.2</text>
<line x1="1164.00" y1="801.25" x2="1167.00" y2="801.25" stroke="rgba(0,0,0,0.55)" stroke-width="1.30"/>
<line x1="1181.00" y1="801.25" x2="1184.50" y2="801.25" stroke="rgba(0,0,0,0.65)" stroke-width="1.30"/>
<text x="1188.00" y="807.85" font-size="19.60" text-anchor="start" fill="#050505" textLength="8.00" lengthAdjust="spacingAndGlyphs" stroke="#050505" stroke-width="0.60">1</text>
<line x1="1164.00" y1="853.50" x2="1167.00" y2="853.50" stroke="rgba(0,0,0,0.55)" stroke-width="1.30"/>
<line x1="1181.00" y1="853.50" x2="1184.50" y2="853.50" stroke="rgba(0,0,0,0.65)" stroke-width="1.30"/>
<text x="1188.00" y="860.10" font-size="19.60" text-anchor="start" fill="#050505" textLength="23.50" lengthAdjust="spacingAndGlyphs" stroke="#050505" stroke-width="0.60">0.8</text>
<line x1="1164.00" y1="906.00" x2="1167.00" y2="906.00" stroke="rgba(0,0,0,0.55)" stroke-width="1.30"/>
<line x1="1181.00" y1="906.00" x2="1184.50" y2="906.00" stroke="rgba(0,0,0,0.65)" stroke-width="1.30"/>
<text x="1188.00" y="912.60" font-size="19.60" text-anchor="start" fill="#050505" textLength="23.50" lengthAdjust="spacingAndGlyphs" stroke="#050505" stroke-width="0.60">0.6</text>
<line x1="1164.00" y1="958.00" x2="1167.00" y2="958.00" stroke="rgba(0,0,0,0.55)" stroke-width="1.30"/>
<line x1="1181.00" y1="958.00" x2="1184.50" y2="958.00" stroke="rgba(0,0,0,0.65)" stroke-width="1.30"/>
<text x="1188.00" y="964.60" font-size="19.60" text-anchor="start" fill="#050505" textLength="23.50" lengthAdjust="spacingAndGlyphs" stroke="#050505" stroke-width="0.60">0.4</text>
<line x1="1164.00" y1="1010.50" x2="1167.00" y2="1010.50" stroke="rgba(0,0,0,0.55)" stroke-width="1.30"/>
<line x1="1181.00" y1="1010.50" x2="1184.50" y2="1010.50" stroke="rgba(0,0,0,0.65)" stroke-width="1.30"/>
<text x="1188.00" y="1017.10" font-size="19.60" text-anchor="start" fill="#050505" textLength="23.50" lengthAdjust="spacingAndGlyphs" stroke="#050505" stroke-width="0.60">0.2</text>
</g>
<g filter="url(#soft2)">
<text x="5.60" y="25.30" font-size="22.30" text-anchor="start" fill="#0c0c0c" textLength="30.60" lengthAdjust="spacing" stroke="#0c0c0c" stroke-width="0.35">(a)</text>
<text x="657.30" y="18.00" font-size="22.30" text-anchor="start" fill="#0c0c0c" textLength="31.20" lengthAdjust="spacing" stroke="#0c0c0c" stroke-width="0.35">(b)</text>
<text x="4.20" y="611.50" font-size="22.30" text-anchor="start" fill="#0c0c0c" textLength="29.60" lengthAdjust="spacing" stroke="#0c0c0c" stroke-width="0.35">(c)</text>
<text x="663.50" y="612.40" font-size="22.30" text-anchor="start" fill="#0c0c0c" textLength="31.20" lengthAdjust="spacing" stroke="#0c0c0c" stroke-width="0.35">(d)</text>
<path d="M754.0 421.1L758.0 421.1L762.0 421.0L766.0 421.0L770.0 421.0L774.0 421.0L778.0 420.9L782.0 420.9L786.0 420.9L790.0 420.9L794.0 420.8L798.0 420.8L802.0 420.8L806.0 420.7L810.0 420.7L814.0 420.6L818.0 420.6L822.0 420.6L826.0 420.5L830.0 420.5L834.0 420.4L838.0 420.4L842.0 420.3L846.0 420.3L850.0 420.2L854.0 420.2L858.0 420.1L862.0 420.0L866.0 420.0L870.0 419.9L874.0 419.8L878.0 419.7L882.0 419.6L886.0 419.6L890.0 419.5L894.0 419.3L898.0 419.2L902.0 419.1L906.0 419.0L910.0 418.9L914.0 418.7L918.0 418.6L922.0 418.4L926.0 418.2L930.0 418.0L934.0 417.8L938.0 417.6L942.0 417.3L946.0 417.1L950.0 416.8L954.0 416.5L958.0 416.1L962.0 415.7L966.0 415.3L970.0 414.8L974.0 414.3L978.0 413.6L982.0 412.9L983.0 412.8L984.0 412.6L985.0 412.4L986.0 412.1L987.0 411.9L988.0 411.7L989.0 411.5L990.0 411.2L991.0 411.0L992.0 410.7L993.0 410.4L994.0 410.1L995.0 409.8L996.0 409.5L997.0 409.2L998.0 408.9L999.0 408.5L1000.0 408.1L1001.0 407.7L1002.0 407.3L1003.0 406.9L1004.0 406.4L1005.0 406.0L1006.0 405.5L1007.0 405.0L1008.0 404.4L1009.0 403.8L1010.0 403.2L1011.0 402.5L1012.0 401.8L1013.0 401.1L1014.0 400.3L1015.0 399.5L1016.0 398.6L1017.0 397.7L1018.0 396.7L1019.0 395.6L1020.0 394.4L1021.0 393.2L1022.0 391.8L1023.0 390.4L1024.0 388.8L1025.0 387.1L1026.0 385.3L1027.0 383.3L1028.0 381.1L1029.0 378.7L1030.0 376.1L1031.0 373.3L1032.0 370.2L1033.0 366.8L1034.0 363.0L1035.0 358.9L1036.0 354.4L1037.0 349.4L1038.0 344.0L1039.0 338.0L1040.0 331.5L1041.0 324.4L1041.2 322.5L1041.5 320.6L1041.8 318.7L1042.0 316.7L1042.2 314.8L1042.5 312.8L1042.8 310.7L1043.0 308.6L1043.2 306.6L1043.5 304.4L1043.8 302.3L1044.0 300.2L1044.2 298.0L1044.5 295.8L1044.8 293.7L1045.0 291.5L1045.2 289.3L1045.5 287.2L1045.8 285.0L1046.0 282.9L1046.2 280.8L1046.5 278.7L1046.8 276.7L1047.0 274.7L1047.2 272.8L1047.5 270.9L1047.8 269.1L1048.0 267.4L1048.2 265.8L1048.5 264.3L1048.8 262.9L1049.0 261.6L1049.2 260.4L1049.5 259.4L1049.8 258.5L1050.0 257.7L1050.2 257.1L1050.5 256.7L1050.8 256.5L1051.0 256.6L1051.2 257.0L1051.5 257.7L1051.8 258.7L1052.0 259.9L1052.2 261.3L1052.5 263.0L1052.8 264.9L1053.0 267.0L1053.2 269.2L1053.5 271.5L1053.8 274.0L1054.0 276.6L1054.2 279.2L1054.5 281.9L1054.8 284.7L1055.0 287.5L1055.2 290.3L1055.5 293.2L1055.8 296.0L1056.0 298.8L1056.2 301.6L1056.5 304.4L1056.8 307.2L1057.0 309.8L1057.2 312.5L1057.5 315.1L1057.8 317.6L1058.0 320.1L1058.2 322.5L1058.5 324.9L1058.8 327.2L1059.0 329.4L1059.2 331.6L1059.5 333.7L1059.8 335.8L1060.0 337.8L1060.2 339.7L1060.5 341.6L1060.8 343.4L1061.0 345.1L1061.2 346.8L1061.5 348.4L1061.8 350.0L1062.0 351.6L1063.0 357.2L1064.0 362.1L1065.0 366.4L1066.0 370.1L1067.0 373.3L1068.0 376.2L1069.0 378.7L1070.0 380.8L1071.0 382.8L1072.0 384.4L1073.0 385.9L1074.0 387.2L1075.0 388.4L1076.0 389.4L1077.0 390.3L1078.0 391.1L1079.0 391.8L1080.0 392.4L1081.0 392.9L1082.0 393.4L1083.0 393.7L1084.0 394.1L1085.0 394.3L1086.0 394.6L1087.0 394.7L1088.0 394.9L1089.0 394.9L1090.0 395.0L1091.0 395.0L1092.0 394.9L1093.0 394.8L1094.0 394.7L1095.0 394.5L1096.0 394.3L1097.0 394.0L1098.0 393.7L1099.0 393.3L1100.0 392.9L1101.0 392.4L1102.0 391.8L1103.0 391.2L1104.0 390.5L1105.0 389.6L1106.0 388.7L1107.0 387.7L1108.0 386.5L1109.0 385.2L1110.0 383.7L1111.0 382.0L1112.0 380.1L1113.0 377.9L1114.0 375.4L1115.0 372.5L1116.0 369.2L1117.0 365.4L1118.0 360.9L1119.0 355.8L1120.0 349.8L1121.0 342.7L1121.2 340.7L1121.5 338.7L1121.8 336.6L1122.0 334.3L1122.2 332.0L1122.5 329.6L1122.8 327.1L1123.0 324.5L1123.2 321.7L1123.5 318.9L1123.8 315.9L1124.0 312.7L1124.2 309.5L1124.5 306.1L1124.8 302.5L1125.0 298.8L1125.2 294.9L1125.5 290.8L1125.8 286.6L1126.0 282.2L1126.2 277.5L1126.5 272.7L1126.8 267.7L1127.0 262.5L1127.2 257.0L1127.5 251.3L1127.8 245.4L1128.0 239.3L1128.2 233.0L1128.5 226.4L1128.8 219.6L1129.0 212.5L1129.2 205.3L1129.5 197.8L1129.8 190.2L1130.0 182.3L1130.2 174.4L1130.5 166.3L1130.8 158.0L1131.0 149.8L1131.2 141.5L1131.5 133.2L1131.8 125.0L1132.0 117.0L1132.2 109.1L1132.5 101.5L1132.8 94.2L1133.0 87.2L1133.2 80.7L1133.5 74.7L1133.8 69.3L1134.0 64.4L1134.2 60.2L1134.5 56.7L1134.8 53.9L1135.0 51.9L1135.2 50.5L1135.5 49.8L1135.8 49.7L1136.0 50.1L1136.2 51.5L1136.5 54.0L1136.8 57.9L1137.0 63.2L1137.2 69.8L1137.5 77.8L1137.8 87.1L1138.0 97.4L1138.2 108.6L1138.5 120.6L1138.8 133.0L1139.0 145.8L1139.2 158.7L1139.5 171.5L1139.8 184.2L1140.0 196.6L1140.2 208.6L1140.5 220.2L1140.8 231.2L1141.0 241.7L1141.2 251.7L1141.5 261.1L1141.8 270.0L1142.0 278.3L1142.2 286.1L1142.5 293.4L1142.8 300.3L1143.0 306.6L1143.2 312.6L1143.5 318.2L1143.8 323.4L1144.0 328.2L1144.2 332.7L1144.5 337.0L1144.8 340.9L1145.0 344.6L1145.2 348.1L1145.5 351.3L1145.8 354.3L1146.0 357.2L1146.2 359.8L1146.5 362.3L1146.8 364.7L1147.0 366.9L1147.2 369.0L1147.5 370.9L1147.8 372.8L1148.0 374.5L1148.2 376.1L1148.5 377.7L1148.8 379.1L1149.0 380.5L1149.2 381.8L1149.5 383.1L1149.8 384.3L1150.0 385.4L1151.0 389.3L1152.0 392.5L1153.0 395.2L1154.0 397.5L1155.0 399.4L1156.0 401.1L1157.0 402.5L1158.0 403.7L1159.0 404.8L1160.0 405.7L1161.0 406.6L1162.0 407.3L1163.0 408.0L1164.0 408.6L1165.0 409.2L1166.0 409.7L1167.0 410.1L1168.0 410.6L1169.0 410.9L1170.0 411.3L1171.0 411.6L1172.0 412.0L1173.0 412.3L1174.0 412.5L1175.0 412.8L1176.0 413.0L1180.0 413.9L1184.0 414.6L1188.0 415.2L1192.0 415.7L1196.0 416.1L1200.0 416.5L1204.0 416.9L1208.0 417.2L1212.0 417.4L1216.0 417.7L1220.0 417.9L1224.0 418.2L1228.0 418.4L1232.0 418.5L1236.0 418.7L1240.0 418.9L1244.0 419.0L1248.0 419.2L1250.0 419.2" fill="none" stroke="#050505" stroke-width="2.7" stroke-linejoin="round"/>
<rect x="752.10" y="30.70" width="498.40" height="391.70" fill="none" stroke="#050505" stroke-width="3.2"/>
<line x1="752.10" y1="373.44" x2="756.90" y2="373.44" stroke="#050505" stroke-width="2.90"/>
<line x1="1245.70" y1="373.44" x2="1250.50" y2="373.44" stroke="#050505" stroke-width="2.90"/>
<line x1="752.10" y1="324.47" x2="756.90" y2="324.47" stroke="#050505" stroke-width="2.90"/>
<line x1="1245.70" y1="324.47" x2="1250.50" y2="324.47" stroke="#050505" stroke-width="2.90"/>
<line x1="752.10" y1="275.51" x2="756.90" y2="275.51" stroke="#050505" stroke-width="2.90"/>
<line x1="1245.70" y1="275.51" x2="1250.50" y2="275.51" stroke="#050505" stroke-width="2.90"/>
<line x1="752.10" y1="226.55" x2="756.90" y2="226.55" stroke="#050505" stroke-width="2.90"/>
<line x1="1245.70" y1="226.55" x2="1250.50" y2="226.55" stroke="#050505" stroke-width="2.90"/>
<line x1="752.10" y1="177.59" x2="756.90" y2="177.59" stroke="#050505" stroke-width="2.90"/>
<line x1="1245.70" y1="177.59" x2="1250.50" y2="177.59" stroke="#050505" stroke-width="2.90"/>
<line x1="752.10" y1="128.62" x2="756.90" y2="128.62" stroke="#050505" stroke-width="2.90"/>
<line x1="1245.70" y1="128.62" x2="1250.50" y2="128.62" stroke="#050505" stroke-width="2.90"/>
<line x1="752.10" y1="79.66" x2="756.90" y2="79.66" stroke="#050505" stroke-width="2.90"/>
<line x1="1245.70" y1="79.66" x2="1250.50" y2="79.66" stroke="#050505" stroke-width="2.90"/>
<line x1="876.70" y1="30.70" x2="876.70" y2="35.50" stroke="#050505" stroke-width="2.90"/>
<line x1="876.70" y1="417.60" x2="876.70" y2="422.40" stroke="#050505" stroke-width="2.90"/>
<line x1="1001.30" y1="30.70" x2="1001.30" y2="35.50" stroke="#050505" stroke-width="2.90"/>
<line x1="1001.30" y1="417.60" x2="1001.30" y2="422.40" stroke="#050505" stroke-width="2.90"/>
<line x1="1125.90" y1="30.70" x2="1125.90" y2="35.50" stroke="#050505" stroke-width="2.90"/>
<line x1="1125.90" y1="417.60" x2="1125.90" y2="422.40" stroke="#050505" stroke-width="2.90"/>
<text x="730.50" y="426.50" font-size="23.80" text-anchor="middle" fill="#000000" stroke="#000000" stroke-width="0.50">0</text>
<text x="730.50" y="328.57" font-size="23.80" text-anchor="middle" fill="#000000" stroke="#000000" stroke-width="0.50">4</text>
<text x="730.50" y="230.65" font-size="23.80" text-anchor="middle" fill="#000000" stroke="#000000" stroke-width="0.50">8</text>
<text x="730.50" y="132.72" font-size="23.80" text-anchor="middle" fill="#000000" stroke="#000000" stroke-width="0.50">12</text>
<text x="730.50" y="34.80" font-size="23.80" text-anchor="middle" fill="#000000" stroke="#000000" stroke-width="0.50">16</text>
<text x="753.60" y="449.00" font-size="23.80" text-anchor="middle" fill="#000000" stroke="#000000" stroke-width="0.50">0</text>
<text x="878.20" y="449.00" font-size="23.80" text-anchor="middle" fill="#000000" stroke="#000000" stroke-width="0.50">500</text>
<text x="1002.80" y="449.00" font-size="23.80" text-anchor="middle" fill="#000000" stroke="#000000" stroke-width="0.50">1000</text>
<text x="1127.40" y="449.00" font-size="23.80" text-anchor="middle" fill="#000000" stroke="#000000" stroke-width="0.50">1500</text>
<text x="1252.00" y="449.00" font-size="23.80" text-anchor="middle" fill="#000000" stroke="#000000" stroke-width="0.50">2000</text>
<text x="1003.20" y="483.20" font-size="23.80" text-anchor="middle" fill="#000000" textLength="42.50" lengthAdjust="spacingAndGlyphs" stroke="#000000" stroke-width="0.50">t (s)</text>
<g transform="translate(689.5,0) rotate(-90)">
<text x="-226.50" y="0.00" font-size="23.80" text-anchor="start" fill="#000000" textLength="76.50" lengthAdjust="spacingAndGlyphs" stroke="#000000" stroke-width="0.50">/(MPa)</text>
<text x="-273.00" y="0.00" font-size="23.80" text-anchor="start" fill="#000000" textLength="19.50" lengthAdjust="spacingAndGlyphs" font-style="italic" stroke="#000000" stroke-width="0.30">σ</text>
<text x="-253.00" y="9.00" font-size="16.18" text-anchor="start" fill="#000000" textLength="8.00" lengthAdjust="spacingAndGlyphs" stroke="#000000" stroke-width="0.50">v</text>
</g>
</g>
</svg>
</body>
</html>
